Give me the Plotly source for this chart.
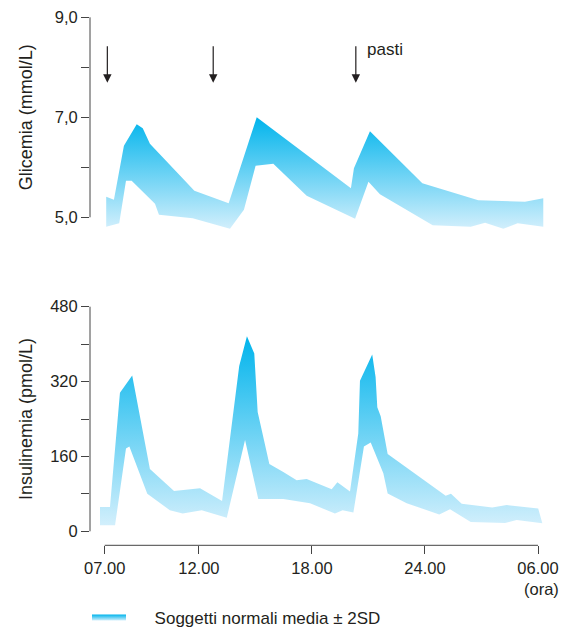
import plotly.graph_objects as go

# ---- data (hours: 7 = 07.00, 24 = midnight, 30 = 06.00 next day) ----
glu_upper_x = [7.08, 7.49, 8.02, 8.70, 9.02, 9.40, 11.76, 13.58, 15.07, 20.07, 20.23, 21.08, 23.86, 26.83, 29.31, 30.28]
glu_upper_y = [5.41, 5.35, 6.43, 6.86, 6.78, 6.47, 5.53, 5.28, 7.00, 5.58, 5.98, 6.72, 5.68, 5.34, 5.31, 5.38]
glu_lower_x = [7.08, 7.77, 8.13, 8.43, 9.67, 9.88, 11.67, 13.65, 14.39, 15.01, 15.95, 17.72, 20.29, 21.00, 21.61, 24.41, 26.43, 27.19, 28.16, 28.92, 30.28]
glu_lower_y = [4.81, 4.88, 5.73, 5.73, 5.27, 5.05, 4.98, 4.77, 5.15, 6.03, 6.07, 5.43, 4.97, 5.71, 5.46, 4.84, 4.81, 4.89, 4.77, 4.88, 4.81]

ins_upper_x = [6.75, 7.28, 7.81, 8.46, 9.40, 10.68, 12.06, 13.23, 14.14, 14.55, 14.94, 15.12, 15.74, 16.48, 17.19, 17.72, 19.05, 19.35, 20.02, 20.46, 20.55, 21.20, 21.38, 21.47, 21.65, 22.02, 25.10, 25.38, 25.95, 27.57, 28.34, 30.01, 30.23]
ins_upper_y = [52, 52, 296, 333, 133, 86, 92, 65, 353, 417, 380, 255, 144, 127, 109, 112, 90, 105, 85, 209, 322, 378, 329, 265, 246, 165, 76, 80, 59, 51, 56, 49, 17]
ins_lower_x = [6.75, 7.55, 8.13, 8.31, 9.26, 10.46, 11.14, 12.15, 13.48, 14.45, 15.15, 16.48, 17.90, 19.22, 19.63, 20.20, 20.76, 21.12, 21.79, 22.02, 23.03, 24.76, 25.33, 26.43, 28.25, 28.87, 30.23]
ins_lower_y = [13, 13, 177, 181, 80, 45, 38, 45, 29, 195, 69, 69, 60, 38, 45, 40, 181, 190, 124, 81, 60, 36, 47, 20, 18, 24, 17]

hour_ticks = [7, 12, 18, 24, 30]
hour_labels = ["07.00", "12.00", "18.00", "24.00", "06.00"]
glu_ticks = [5, 6, 7, 8, 9]
glu_labels = ["5,0", "", "7,0", "", "9,0"]
ins_ticks = [0, 80, 160, 240, 320, 400, 480]
ins_labels = ["0", "", "160", "", "320", "", "480"]
meal_hours = [7.14, 12.76, 20.33]
legend_label = "Soggetti normali media \u00b1 2SD"

# ---- styling ----
OFF = 8                      # page body margin of the html page
W, H = 567 - OFF, 631 - OFF  # figure size that fits the window
TXT = "#231f20"
AX = "#444444"
FONT = "Liberation Sans, Arial, Helvetica, sans-serif"
grad = dict(type="vertical", colorscale=[[0, "#d2effc"], [1, "#00b4ec"]])

def px_x(p):  # screen pixel -> paper fraction
    return (p - OFF) / W

def px_y(p):
    return 1 - (p - OFF) / H

fig = go.Figure()

fig.add_trace(go.Scatter(
    x=glu_upper_x + glu_lower_x[::-1], y=glu_upper_y + glu_lower_y[::-1],
    fill="toself", mode="none", fillgradient=grad, fillcolor="#5cc8f2",
    name="\u00a0" * 5 + legend_label, showlegend=True,
    xaxis="x", yaxis="y", hoverinfo="skip"))
fig.add_trace(go.Scatter(
    x=ins_upper_x + ins_lower_x[::-1], y=ins_upper_y + ins_lower_y[::-1],
    fill="toself", mode="none", fillgradient=grad, fillcolor="#5cc8f2",
    showlegend=False, xaxis="x2", yaxis="y2", hoverinfo="skip"))

xr = [7 - 14.7 / 18.84, 30 + 12 / 18.84]
xdom = [px_x(90), px_x(550)]

common_y = dict(ticks="outside", ticklen=8, tickwidth=1, tickcolor=AX,
                showline=False, showgrid=False, zeroline=False, automargin=False,
                tickfont=dict(size=16.5, color=TXT, family=FONT))

fig.update_layout(
    width=W, height=H, margin=dict(l=0, r=0, t=0, b=0, autoexpand=False),
    paper_bgcolor="white", plot_bgcolor="white",
    font=dict(family=FONT, color=TXT),
    xaxis=dict(domain=xdom, range=xr, anchor="y", showticklabels=False,
               ticks="", showline=False, showgrid=False, zeroline=False, automargin=False),
    yaxis=dict(domain=[px_y(235), px_y(10)], range=[4.646, 9.146], anchor="x",
               tickvals=glu_ticks, ticktext=glu_labels, **common_y),
    xaxis2=dict(domain=xdom, range=xr, anchor="y2", tickvals=hour_ticks,
                ticktext=hour_labels, ticks="outside", ticklen=8, tickwidth=1,
                tickcolor=AX, showline=False, showgrid=False, zeroline=False,
                automargin=False, tickfont=dict(size=16.5, color=TXT, family=FONT)),
    yaxis2=dict(domain=[px_y(545.3), px_y(300)], range=[-29.9, 494.3], anchor="x2",
                tickvals=ins_ticks, ticktext=ins_labels, **common_y),
    showlegend=True,
    legend=dict(x=px_x(87), y=px_y(600), xanchor="left", yanchor="top",
                font=dict(size=17, color=TXT, family=FONT),
                bgcolor="rgba(0,0,0,0)", itemwidth=34),
)

# axis lines (only over the labelled span, as in the reference)
fig.add_shape(type="line", xref="paper", yref="y", x0=xdom[0], x1=xdom[0],
              y0=glu_ticks[0], y1=glu_ticks[-1], line=dict(color=AX, width=1))
fig.add_shape(type="line", xref="paper", yref="y2", x0=xdom[0], x1=xdom[0],
              y0=ins_ticks[0], y1=ins_ticks[-1], line=dict(color=AX, width=1))
fig.add_shape(type="line", xref="x2", yref="paper", x0=hour_ticks[0], x1=hour_ticks[-1],
              y0=px_y(545.3), y1=px_y(545.3), line=dict(color=AX, width=1))

# meal arrows
for h in meal_hours:
    fig.add_annotation(x=h, y=9 - (82.7 - 17.3) / 50, xref="x", yref="y",
                       text="", showarrow=True, ax=0, ay=-38, axref="pixel",
                       arrowhead=2, arrowsize=1.4, arrowwidth=1.2, arrowcolor=TXT)
fig.add_annotation(x=meal_hours[-1], y=9 - (50 - 17.3) / 50, xref="x", yref="y",
                   xshift=9, text="pasti", showarrow=False, xanchor="left", yanchor="middle",
                   font=dict(size=17, color=TXT, family=FONT))

# axis titles
fig.add_annotation(x=px_x(26), y=7, xref="paper", yref="y", text="Glicemia (mmol/L)",
                   textangle=-90, showarrow=False, xanchor="center", yanchor="middle",
                   font=dict(size=18, color=TXT, family=FONT))
fig.add_annotation(x=px_x(26), y=240, xref="paper", yref="y2", text="Insulinemia (pmol/L)",
                   textangle=-90, showarrow=False, xanchor="center", yanchor="middle",
                   font=dict(size=18, color=TXT, family=FONT))
fig.add_annotation(x=px_x(561), y=px_y(589), xref="paper", yref="paper", text="(ora)",
                   xanchor="right", yanchor="middle", showarrow=False,
                   font=dict(size=16.5, color=TXT, family=FONT))

fig.write_html("out.html")
